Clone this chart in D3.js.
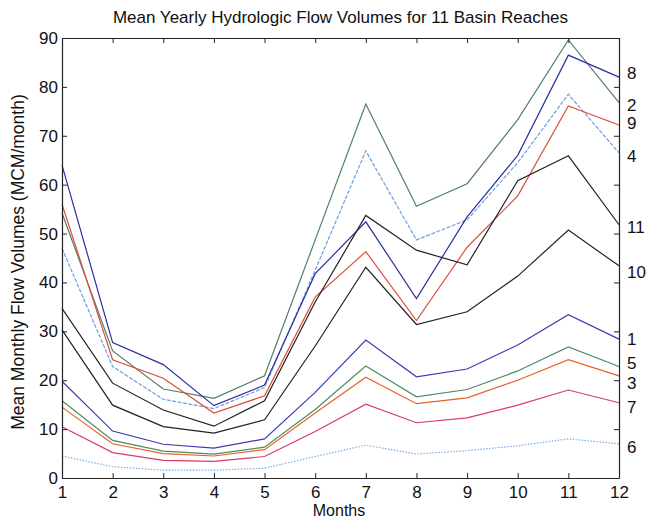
<!DOCTYPE html>
<html><head><meta charset="utf-8">
<script src="https://cdn.jsdelivr.net/npm/d3@7"></script>
<style>body{margin:0;background:#fff}svg{display:block}text{font-family:"Liberation Sans",Arial,sans-serif;fill:#111}</style>
</head><body>
<script>
const months = [1,2,3,4,5,6,7,8,9,10,11,12];
const yTicks = [0,10,20,30,40,50,60,70,80,90];
const reach1  = [19.8, 9.6, 6.9, 6.1, 8.0, 17.5, 28.2, 20.7, 22.3, 27.2, 33.4, 28.4];
const reach2  = [54.2, 26.0, 18.2, 16.3, 20.9, 48.7, 76.5, 55.6, 60.2, 73.3, 89.6, 76.8];
const reach3  = [14.5, 7.0, 5.0, 4.5, 5.8, 13.3, 20.6, 15.2, 16.4, 20.0, 24.2, 20.9];
const reach4  = [47.0, 22.8, 16.1, 14.2, 18.5, 42.5, 66.9, 48.7, 52.8, 64.5, 78.5, 66.5];
const reach5  = [15.8, 7.7, 5.5, 4.9, 6.3, 14.0, 22.9, 16.6, 18.1, 21.9, 26.8, 22.8];
const reach6  = [4.5, 2.3, 1.6, 1.6, 2.0, 4.4, 6.7, 4.9, 5.6, 6.6, 8.0, 7.0];
const reach7  = [10.5, 5.2, 3.6, 3.4, 4.4, 9.5, 15.1, 11.3, 12.3, 14.9, 18.0, 15.4];
const reach8  = [64.0, 27.7, 23.2, 14.8, 19.0, 41.8, 52.4, 36.7, 53.4, 66.0, 86.5, 82.0];
const reach9  = [56.0, 24.2, 20.4, 13.3, 16.8, 37.0, 46.3, 32.2, 47.2, 57.7, 76.1, 72.2];
const reach10 = [30.3, 14.9, 10.5, 9.2, 11.9, 27.0, 43.1, 31.4, 34.0, 41.3, 50.7, 43.4];
const reach11 = [34.7, 19.4, 13.9, 10.6, 15.8, 36.0, 53.7, 46.6, 43.6, 60.8, 65.9, 51.8];
const reachNames = ["1","2","3","4","5","6","7","8","9","10","11"];
// vertical position (in data units) of the right-hand reach labels
const labelValues = [28.4, 76.3, 19.4, 65.9, 23.5, 6.3, 14.5, 82.8, 72.6, 42.1, 51.3];

const seriesValues = [reach1,reach2,reach3,reach4,reach5,reach6,reach7,reach8,reach9,reach10,reach11];
const colors = ["#3b3bb8","#4f7f6a","#e8602c","#6aa0dc","#4e8c5e","#7aaee6","#d83a6a","#2e2e9e","#d9503a","#222","#222"];
const dashes = [null,null,null,"4,1.5",null,"1.5,1.5",null,null,null,null,null];

const W=646,H=521;
const x = d3.scaleLinear().domain([1,12]).range([62,619]);
const y = d3.scaleLinear().domain([0,90]).range([478,38]);
const svg = d3.select("body").append("svg").attr("width",W).attr("height",H);

// lines
const line = d3.line().x((d,i)=>x(months[i])).y(d=>y(d));
seriesValues.forEach((vals,k)=>{
  svg.append("path").datum(vals).attr("d",line).attr("fill","none")
    .attr("stroke",colors[k]).attr("stroke-width",1.2)
    .attr("stroke-dasharray",dashes[k]);
});

// axes
const ax = g=>g.selectAll(".domain").attr("stroke","#222").attr("stroke-width",1.2);
svg.append("g").attr("transform","translate(0,478)")
  .call(d3.axisBottom(x).tickValues(months).tickFormat(d3.format("d")).tickSizeInner(-5).tickSizeOuter(0).tickPadding(8))
  .call(ax).call(g=>g.selectAll("text").attr("font-size",17).attr("fill","#111"))
  .call(g=>g.selectAll("line").attr("stroke","#222"));
svg.append("g").attr("transform","translate(0,38)")
  .call(d3.axisTop(x).tickValues(months).tickFormat("").tickSizeInner(-5).tickSizeOuter(0))
  .call(ax).call(g=>g.selectAll("line").attr("stroke","#222"));
svg.append("g").attr("transform","translate(62,0)")
  .call(d3.axisLeft(y).tickValues(yTicks).tickFormat(d3.format("d")).tickSizeInner(-5).tickSizeOuter(0).tickPadding(4))
  .call(ax).call(g=>g.selectAll("text").attr("font-size",17).attr("fill","#111"))
  .call(g=>g.selectAll("line").attr("stroke","#222"));
svg.append("g").attr("transform","translate(619,0)")
  .call(d3.axisRight(y).tickValues(yTicks).tickFormat("").tickSizeInner(-5).tickSizeOuter(0))
  .call(ax).call(g=>g.selectAll("line").attr("stroke","#222"));

// right labels
svg.append("g").selectAll("text").data(reachNames).join("text")
  .attr("x",627).attr("y",(d,i)=>y(labelValues[i])).attr("dy","0.36em")
  .attr("font-size",17).text(d=>d);

// titles
svg.append("text").attr("x",340.5).attr("y",23).attr("text-anchor","middle")
  .attr("font-size",17).text("Mean Yearly Hydrologic Flow Volumes for 11 Basin Reaches");
svg.append("text").attr("x",339).attr("y",516).attr("text-anchor","middle")
  .attr("font-size",16).text("Months");
svg.append("text").attr("transform","translate(24,262) rotate(-90)").attr("text-anchor","middle")
  .attr("font-size",17.5).text("Mean Monthly Flow Volumes (MCM/month)");
</script>
</body></html>
